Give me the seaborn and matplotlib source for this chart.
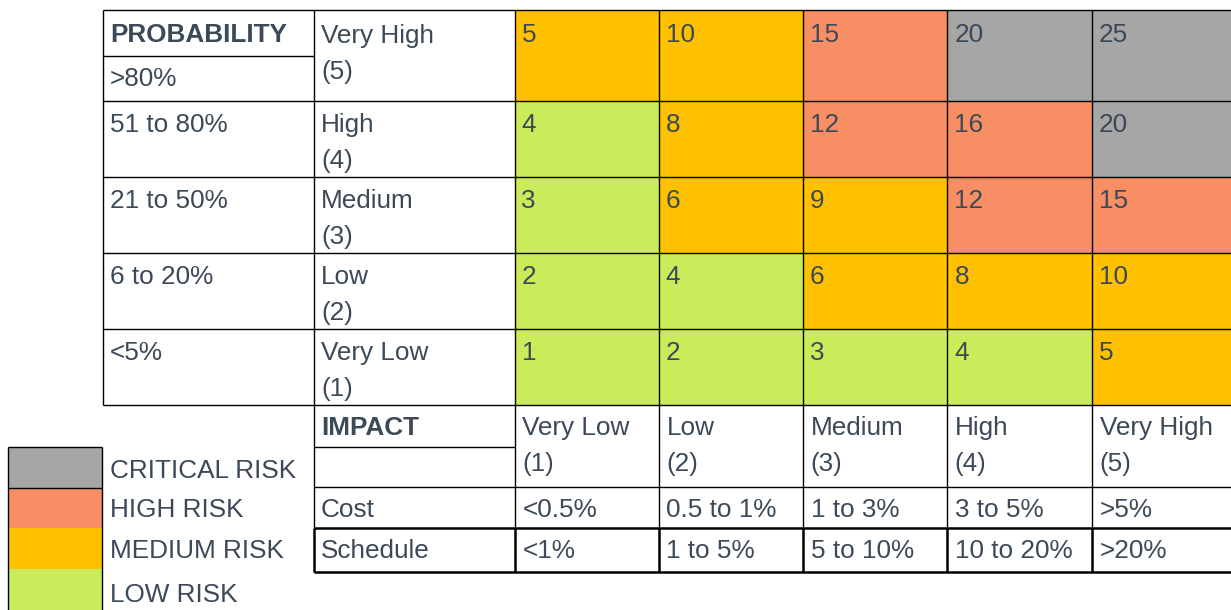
import numpy as np
import matplotlib
matplotlib.use("Agg")
import matplotlib.pyplot as plt
from matplotlib.colors import ListedColormap
from matplotlib.transforms import offset_copy
import seaborn as sns

# ---- data -----------------------------------------------------------------
prob_levels = ["Very High", "High", "Medium", "Low", "Very Low"]
prob_scores = [5, 4, 3, 2, 1]
prob_ranges = [">80%", "51 to 80%", "21 to 50%", "6 to 20%", "<5%"]

impact_levels = ["Very Low", "Low", "Medium", "High", "Very High"]
impact_scores = [1, 2, 3, 4, 5]
cost_ranges = ["<0.5%", "0.5 to 1%", "1 to 3%", "3 to 5%", ">5%"]
schedule_ranges = ["<1%", "1 to 5%", "5 to 10%", "10 to 20%", ">20%"]

# risk score per cell (rows: probability high -> low, cols: impact low -> high)
risk_scores = [
    [5, 10, 15, 20, 25],
    [4, 8, 12, 16, 20],
    [3, 6, 9, 12, 15],
    [2, 4, 6, 8, 10],
    [1, 2, 3, 4, 5],
]

risk_classes = ["LOW RISK", "MEDIUM RISK", "HIGH RISK", "CRITICAL RISK"]
risk_upper = [4, 10, 16, 25]          # highest score in each class
risk_colors = ["#CBEB5B", "#FFC000", "#F78E64", "#A6A6A6"]

# ---- styling --------------------------------------------------------------
sns.set_theme(style="white")
plt.rcParams["font.family"] = ["Liberation Sans", "DejaVu Sans"]
TXT = "#3B4958"
FS = 18.8
THIN = 1.0
THICK = 1.8

W, H = 1231, 610
fig = plt.figure(figsize=(W / 100, H / 100), dpi=100)


def px_axes(x0, y0, x1, y1, **kw):
    return fig.add_axes([x0 / W, 1 - y1 / H, (x1 - x0) / W, (y1 - y0) / H], **kw)


# layout of the table, in pixels
col_x = [514.5, 658.5, 802.6, 946.6, 1091.6, 1236.0]
row_y = [9.5, 101.3, 177.3, 253.3, 329.3, 405.3]
left_x, mid_x = 102.5, 314.3
imp_y = [405.3, 446.5, 487.3, 527.7, 572.0]

scores = np.array(risk_scores)
levels = np.searchsorted(risk_upper, scores)
cmap = ListedColormap(risk_colors)
hm_kw = dict(cmap=cmap, vmin=-0.5, vmax=3.5, cbar=False,
             xticklabels=False, yticklabels=False, linewidths=0)

# risk matrix: the top row is taller, so it gets its own axes
ax_top = px_axes(col_x[0], row_y[0], col_x[-1], row_y[1])
sns.heatmap(levels[:1], ax=ax_top, **hm_kw)
ax_rest = px_axes(col_x[0], row_y[1], col_x[-1], row_y[-1])
sns.heatmap(levels[1:], ax=ax_rest, **hm_kw)

for hax, block, dy in ((ax_top, scores[:1], 33), (ax_rest, scores[1:], 30.5)):
    hax.set_axis_off()
    tr = offset_copy(hax.transData, fig=fig, x=7, y=-dy, units="dots")
    for i, row in enumerate(block):
        for j, v in enumerate(row):
            hax.text(j, i, str(v), transform=tr, ha="left", va="baseline",
                     fontsize=FS, color=TXT)

# legend swatches
legend_order = list(range(len(risk_classes)))[::-1]
ax_leg = px_axes(8.3, 446.7, 102.0, 610.0)
sns.heatmap(np.array(legend_order).reshape(-1, 1), ax=ax_leg, **hm_kw)
ax_leg.set_axis_off()

# ---- overlay with borders and labels (pixel coordinates) ------------------
ax = fig.add_axes([0, 0, 1, 1])
ax.set_xlim(0, W)
ax.set_ylim(H, 0)
ax.set_facecolor("none")
ax.set_axis_off()

k = dict(color="black", lw=THIN, zorder=5)
kk = dict(color="black", lw=THICK, zorder=6)
# probability block
for y in row_y:
    ax.hlines(y, left_x, W, **k)
ax.hlines(55.5, left_x, mid_x, **k)
ax.vlines(left_x, row_y[0], row_y[-1], **k)
for x in [mid_x] + col_x[:-1]:
    ax.vlines(x, row_y[0], imp_y[3], **k)
    ax.vlines(x, imp_y[3], imp_y[4], **kk)
# impact block
ax.hlines(imp_y[1], mid_x, col_x[0], **k)
ax.hlines(imp_y[2], mid_x, W, **k)
ax.hlines(imp_y[3], mid_x, W, **kk)
ax.hlines(imp_y[4], mid_x, W, **kk)
# legend border
ax.vlines([8.3, 102.0], 446.7, 610, **k)
ax.hlines([446.7, 487.5], 8.3, 102.0, **k)

t = dict(fontsize=FS, color=TXT, ha="left", va="baseline", zorder=7)
ax.text(110, 41.5, "PROBABILITY", fontweight="bold", **t)
ax.text(110, 86.5, prob_ranges[0], **t)
for i, (lvl, sc) in enumerate(zip(prob_levels, prob_scores)):
    top = row_y[i]
    base = top + (33 if i == 0 else 30.5)
    if i > 0:
        ax.text(110, base, prob_ranges[i], **t)
    ax.text(321, base, lvl, **t)
    ax.text(321, base + 36.5, f"({sc})", **t)

ax.text(321, 435, "IMPACT", fontweight="bold", **t)
ax.text(321, 517, "Cost", **t)
ax.text(321, 558.5, "Schedule", **t)
for j, (lvl, sc) in enumerate(zip(impact_levels, impact_scores)):
    x = col_x[j] + 8
    ax.text(x, 435, lvl, **t)
    ax.text(x, 471.5, f"({sc})", **t)
    ax.text(x, 517, cost_ranges[j], **t)
    ax.text(x, 558.5, schedule_ranges[j], **t)

for name, base in zip([risk_classes[i] for i in legend_order],
                      [477.5, 517, 558.5, 602]):
    ax.text(110, base, name, **t)

fig.savefig("out.png", dpi=100)
